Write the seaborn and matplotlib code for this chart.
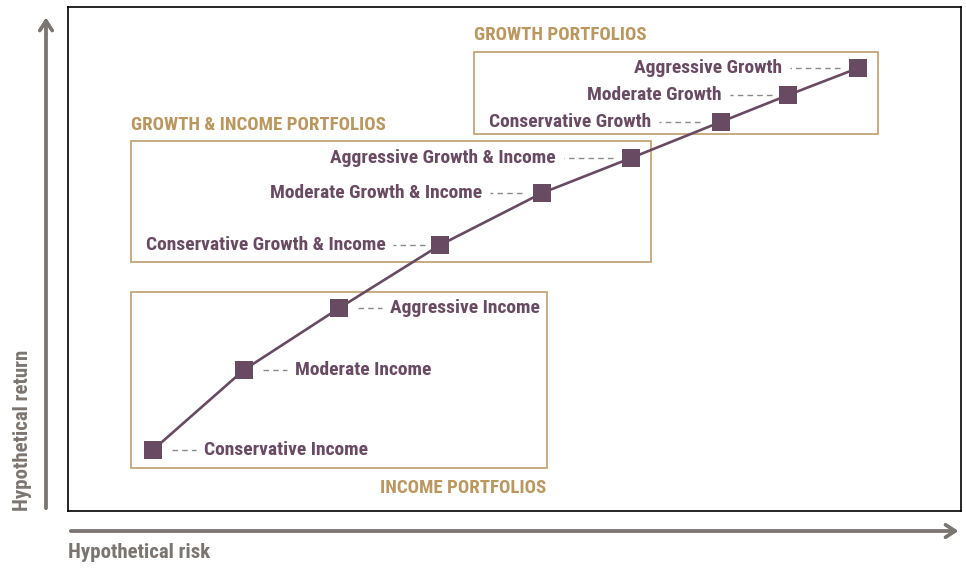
import matplotlib
matplotlib.use("Agg")
import matplotlib.pyplot as plt
import seaborn as sns
import pandas as pd
from matplotlib.patches import Rectangle

# portfolios along the risk/return line (0-100 scale)
portfolios = [
    "Conservative Income", "Moderate Income", "Aggressive Income",
    "Conservative Growth & Income", "Moderate Growth & Income", "Aggressive Growth & Income",
    "Conservative Growth", "Moderate Growth", "Aggressive Growth",
]
risk = [9.5, 19.7, 30.4, 41.7, 53.1, 63.0, 73.1, 80.6, 88.5]
ret = [12.1, 28.0, 40.3, 52.8, 63.1, 70.0, 77.2, 82.5, 87.9]

# group boxes: (x0, x1, y0, y1) and titles
groups = ["INCOME PORTFOLIOS", "GROWTH & INCOME PORTFOLIOS", "GROWTH PORTFOLIOS"]
box_x0 = [7.1, 7.1, 45.5]
box_x1 = [53.6, 65.3, 90.7]
box_y0 = [8.5, 49.4, 74.8]
box_y1 = [43.5, 73.4, 91.1]

PURPLE = "#684a63"
TAN = "#c4a676"
TAN_TXT = "#b9975f"
GREY = "#7a7571"
DASH = "#8a8a8a"

sns.set_style("white")
plt.rcParams["font.family"] = ["Roboto Condensed", "DejaVu Sans"]
plt.rcParams["font.weight"] = "bold"

fig = plt.figure(figsize=(9.66, 5.69), dpi=100)
ax = fig.add_axes([68 / 966, 58 / 569, 893 / 966, 504 / 569])

df = pd.DataFrame({"risk": risk, "ret": ret})
sns.lineplot(data=df, x="risk", y="ret", ax=ax, color=PURPLE, lw=1.9,
             marker="s", markersize=13, markeredgewidth=0, sort=False, zorder=5)

ax.set_xlim(0, 100)
ax.set_ylim(0, 100)
ax.set_xticks([])
ax.set_yticks([])
ax.set_xlabel("")
ax.set_ylabel("")
for s in ax.spines.values():
    s.set_color("black")
    s.set_linewidth(1.2)

# boxes
for x0, x1, y0, y1 in zip(box_x0, box_x1, box_y0, box_y1):
    ax.add_patch(Rectangle((x0, y0), x1 - x0, y1 - y0, fill=False,
                           ec=TAN, lw=1.3, zorder=1))

fs = 14
fs_t = 13.6
ax.text(box_x1[0], box_y0[0] - 2.2, groups[0], ha="right", va="top",
        color=TAN_TXT, fontsize=fs_t, fontweight="bold")
ax.text(box_x0[1], box_y1[1] + 1.4, groups[1], ha="left", va="bottom",
        color=TAN_TXT, fontsize=fs_t, fontweight="bold")
ax.text(box_x0[2], box_y1[2] + 1.6, groups[2], ha="left", va="bottom",
        color=TAN_TXT, fontsize=fs_t, fontweight="bold")

# labels with dashed leaders, offsets in pixels
# side: +1 label right of marker, -1 label left
side = [1, 1, 1, -1, -1, -1, -1, -1, -1]
dash_len = [24, 24, 24, 32, 32, 49, 41, 42, 50]
gap_marker = [19, 19, 19, 15, 20, 18, 21, 16, 18]
inv = ax.transData.inverted()
for name, x, y, sd, dl, gm in zip(portfolios, risk, ret, side, dash_len, gap_marker):
    px, py = ax.transData.transform((x, y))
    d0 = px + sd * gm
    d1 = d0 + sd * dl
    (ax0, _), (ax1, _) = inv.transform([(d0, py), (d1, py)])
    ax.plot([ax0, ax1], [y, y], color=DASH, lw=1, ls=(0, (4, 3)), zorder=3)
    tdx, _ = inv.transform((d1 + sd * 8, py))
    ax.text(tdx, y, name, ha="left" if sd > 0 else "right", va="center",
            color=PURPLE, fontsize=fs, fontweight="bold", zorder=4)

# axis arrows outside the frame
arrow = dict(arrowstyle="->,head_length=0.7,head_width=0.45", color=GREY, lw=2.4)
fig.add_artist(plt.annotate("", xy=(46 / 966, 1 - 15 / 569), xytext=(46 / 966, 1 - 511 / 569),
                            xycoords="figure fraction", arrowprops=arrow))
fig.add_artist(plt.annotate("", xy=(961 / 966, 1 - 531 / 569), xytext=(68 / 966, 1 - 531 / 569),
                            xycoords="figure fraction", arrowprops=arrow))

fig.text(23 / 966, 1 - 511 / 569, "Hypothetical return", rotation=90,
         ha="center", va="bottom", color=GREY, fontsize=15, fontweight="bold")
fig.text(68 / 966, 1 - 553 / 569, "Hypothetical risk", ha="left", va="center",
         color=GREY, fontsize=15, fontweight="bold")

fig.savefig("out.png", dpi=100)
